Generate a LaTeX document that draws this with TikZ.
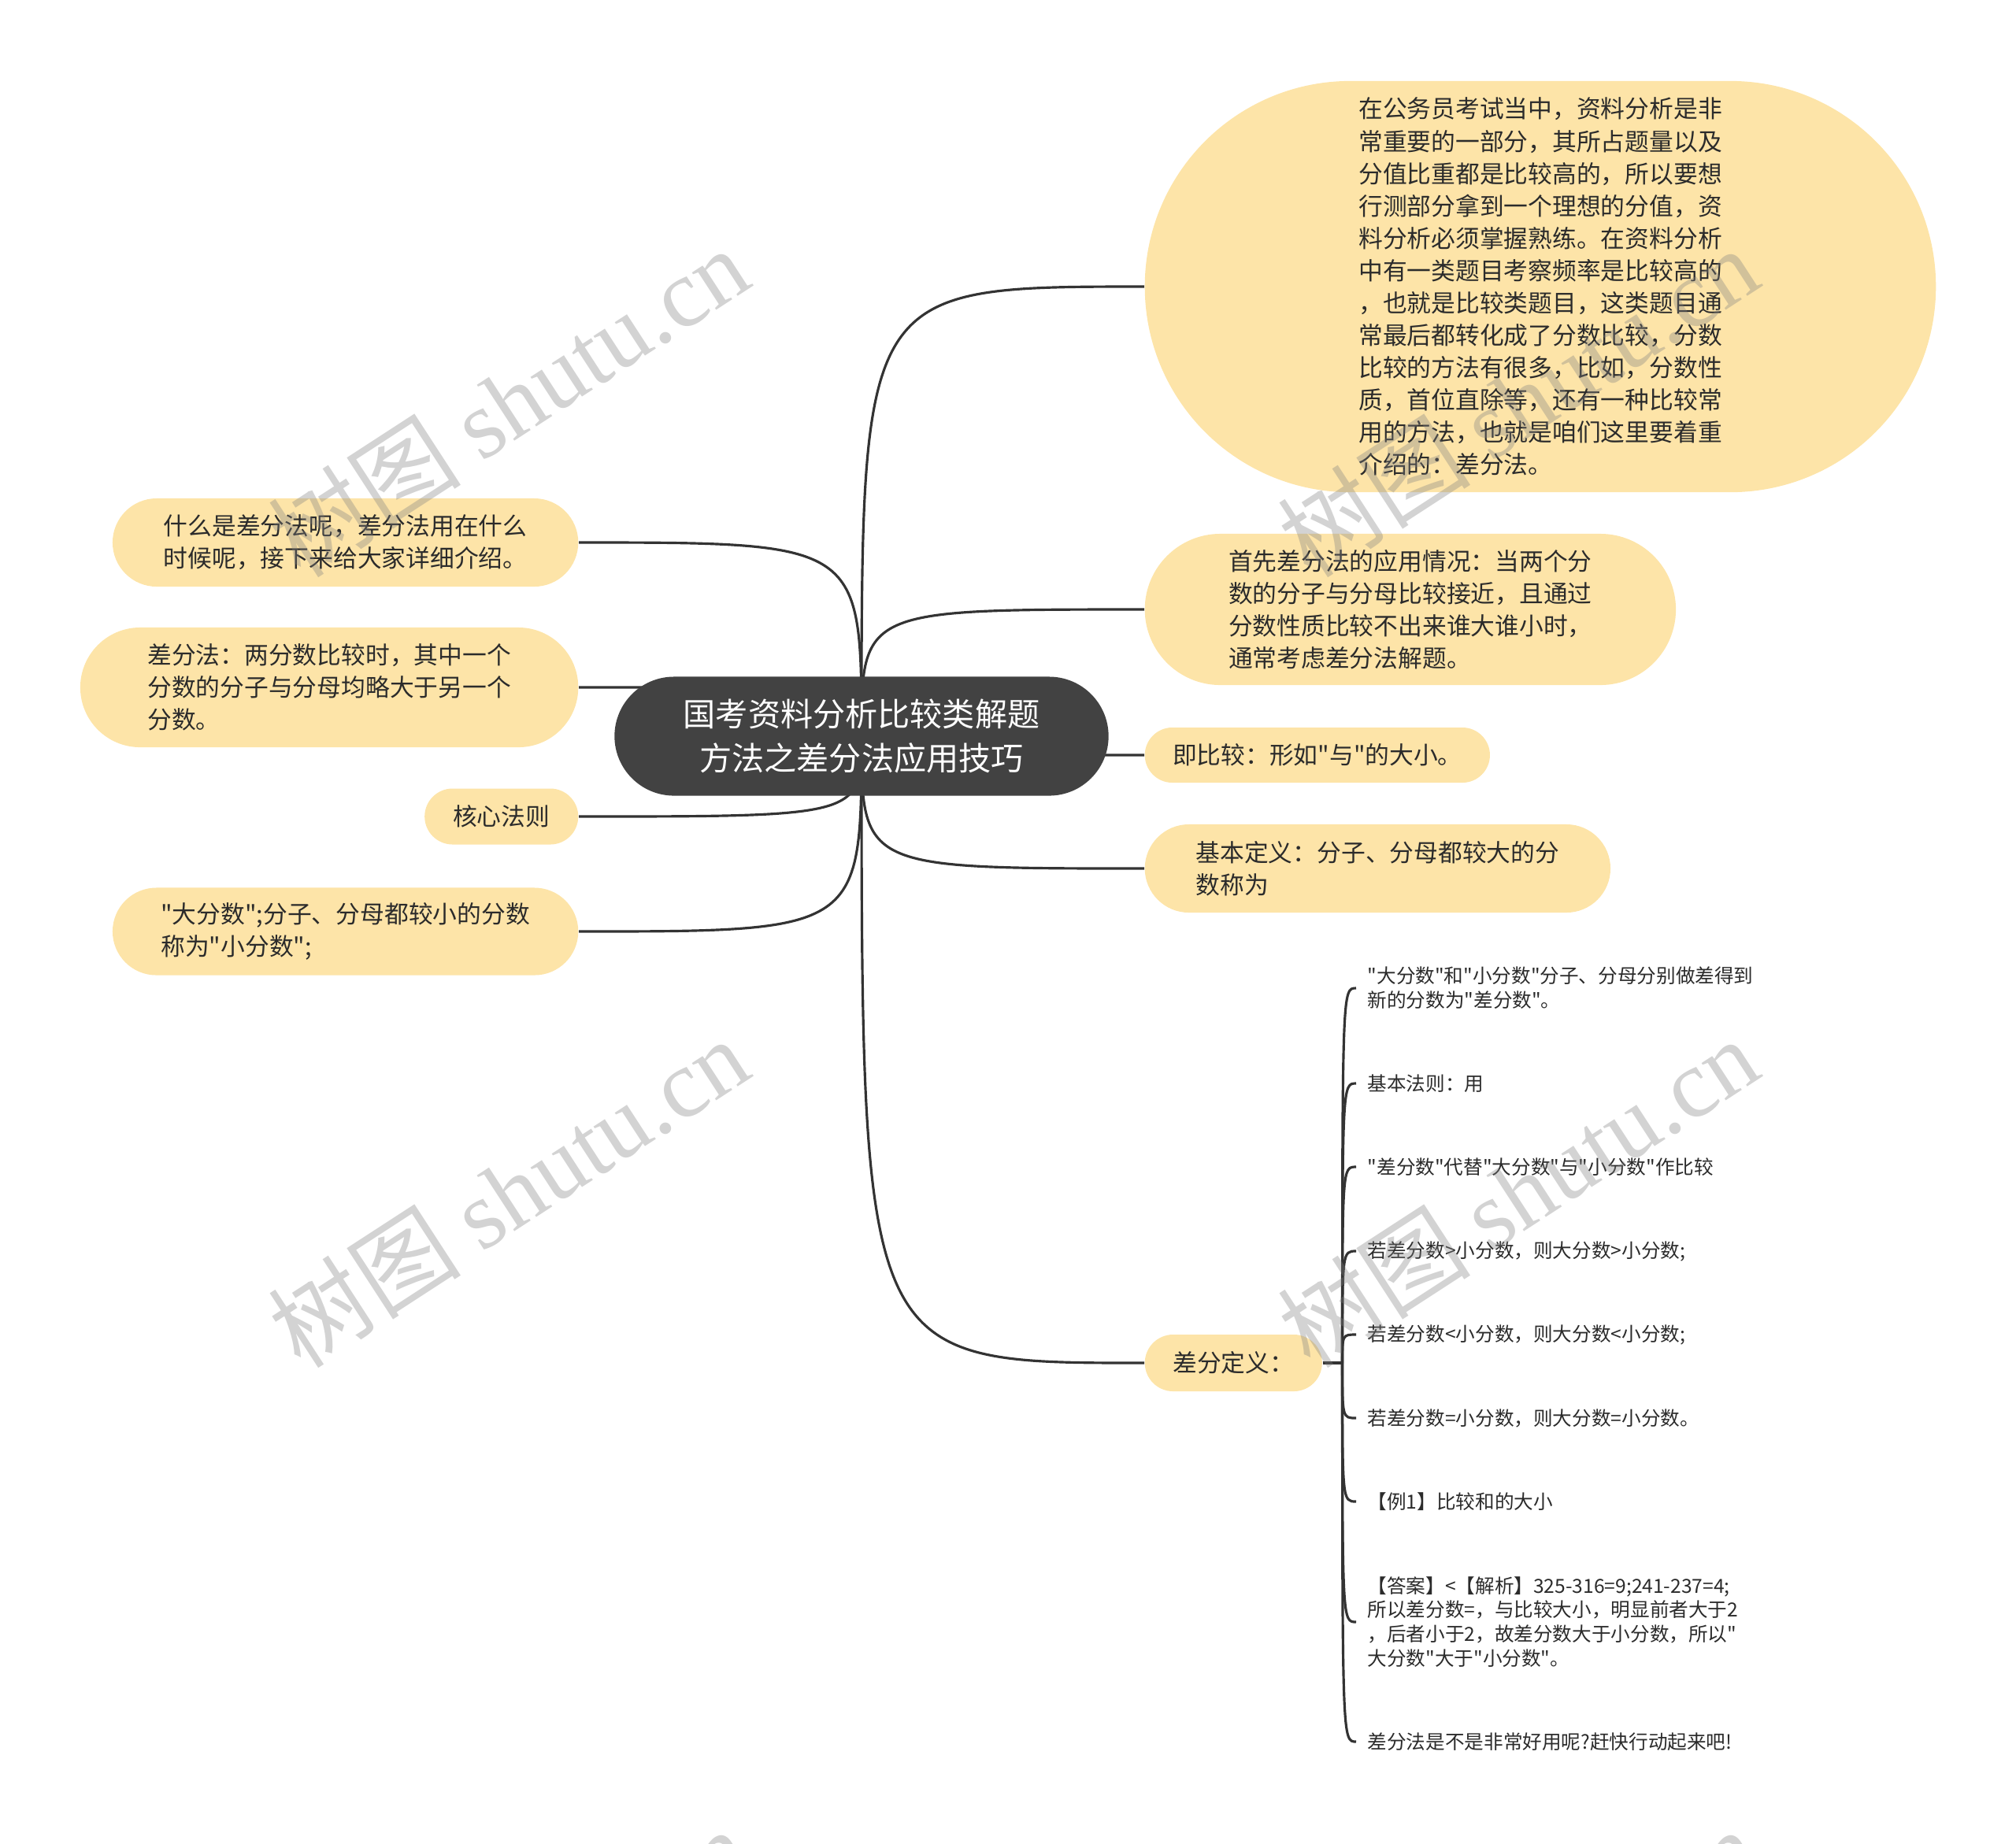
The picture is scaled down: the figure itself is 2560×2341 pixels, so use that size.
\documentclass[tikz,border=0pt]{standalone}
\usepackage{fontspec}
\setmainfont{Noto Sans CJK SC}[Ligatures=TeXOff]
\newfontfamily\wmfont{Liberation Serif}
\usetikzlibrary{shapes.misc,backgrounds}
\definecolor{nodefill}{HTML}{FDE4A8}
\definecolor{rootfill}{HTML}{424242}
\definecolor{linecol}{HTML}{333333}
\definecolor{textcol}{HTML}{2B2B2B}
\tikzset{
  rootbox/.style={rounded rectangle, fill=rootfill, text=white, align=center,
    font=\fontsize{11.7}{15.8}\selectfont, inner xsep=0.12cm, inner ysep=0.27cm},
  topic/.style={rounded rectangle, fill=nodefill, text=textcol, align=left,
    font=\fontsize{8.75}{11.67}\selectfont, inner xsep=0.08cm, inner ysep=0.19cm},
  leafnote/.style={anchor=west, align=left, text=textcol,
    font=\fontsize{7}{8.8}\selectfont, inner xsep=0.14cm, inner ysep=0cm},
  link/.style={draw=linecol, line width=0.9pt},
  wmtext/.style={text=gray, text opacity=0.35, rotate=33,
    font=\fontsize{35}{35}\selectfont}
}

\begin{document}
\begin{tikzpicture}[x=0.01cm, y=-0.01cm]%
\useasboundingbox (0,0) rectangle (2560,2341);%
% root
\node[rootbox, minimum width=6.51cm, minimum height=1.51cm] (root) at (1094,935) {国考资料分析比较类解题\\方法之差分法应用技巧};%
% right side
\node[topic, anchor=west, minimum width=10.2cm, minimum height=5.22cm] (intro) at (1453,364) {在公务员考试当中，资料分析是非\\常重要的一部分，其所占题量以及\\分值比重都是比较高的，所以要想\\行测部分拿到一个理想的分值，资\\料分析必须掌握熟练。在资料分析\\中有一类题目考察频率是比较高的\\，也就是比较类题目，这类题目通\\常最后都转化成了分数比较，分数\\比较的方法有很多，比如，分数性\\质，首位直除等，还有一种比较常\\用的方法，也就是咱们这里要着重\\介绍的：差分法。};%
\node[topic, anchor=west, minimum width=6.9cm, minimum height=1.92cm] (first) at (1453,774) {首先差分法的应用情况：当两个分\\数的分子与分母比较接近，且通过\\分数性质比较不出来谁大谁小时，\\通常考虑差分法解题。};%
\node[topic, anchor=west, minimum width=4.54cm, minimum height=0.7cm] (cmp) at (1453,959) {即比较：形如"与"的大小。};%
\node[topic, anchor=west, minimum width=6.07cm, minimum height=1.12cm] (basic) at (1453,1103) {基本定义：分子、分母都较大的分\\数称为};%
\node[topic, anchor=west, minimum width=2.41cm, minimum height=0.72cm] (def) at (1453,1731) {差分定义：};%
% left side
\node[topic, anchor=east, minimum width=6.07cm, minimum height=1.12cm] (what) at (735,689) {什么是差分法呢，差分法用在什么\\时候呢，接下来给大家详细介绍。};%
\node[topic, anchor=east, minimum width=6.48cm, minimum height=1.52cm] (meth) at (735,873) {差分法：两分数比较时，其中一个\\分数的分子与分母均略大于另一个\\分数。};%
\node[topic, anchor=east, minimum width=2.11cm, minimum height=0.71cm] (core) at (735,1037) {核心法则};%
\node[topic, anchor=east, minimum width=6.07cm, minimum height=1.11cm] (big) at (735,1183) {"大分数";分子、分母都较小的分数\\称为"小分数";};%
% leaves of def
\coordinate (hub) at ([xshift=0.25cm]def.east);%
\node[leafnote] (d1) at (1722,1255) {"大分数"和"小分数"分子、分母分别做差得到\\新的分数为"差分数"。};%
\node[leafnote] (d2) at (1722,1376) {基本法则：用};%
\node[leafnote] (d3) at (1722,1482) {"差分数"代替"大分数"与"小分数"作比较};%
\node[leafnote] (d4) at (1722,1589) {若差分数>小分数，则大分数>小分数;};%
\node[leafnote] (d5) at (1722,1695) {若差分数<小分数，则大分数<小分数;};%
\node[leafnote] (d6) at (1722,1801) {若差分数=小分数，则大分数=小分数。};%
\node[leafnote] (d7) at (1722,1907) {【例1】比较和的大小};%
\node[leafnote] (d8) at (1722,2060) {【答案】<【解析】325-316=9;241-237=4;\\所以差分数=，与比较大小，明显前者大于2\\，后者小于2，故差分数大于小分数，所以"\\大分数"大于"小分数"。};%
\node[leafnote] (d9) at (1722,2212) {差分法是不是非常好用呢?赶快行动起来吧!};%
% connectors
\begin{pgfonlayer}{background}
\foreach \n in {intro,first,cmp,basic,def}
  \draw[link] (root.center) .. controls (root.center |- \n.west) .. (\n.west);
\foreach \n in {what,meth,core,big}
  \draw[link] (root.center) .. controls (root.center |- \n.east) .. (\n.east);
\draw[link] (def.east) -- (hub);
\foreach \i in {1,...,9}
  \draw[link] (hub) .. controls (hub |- d\i.west) .. (d\i.west);
\end{pgfonlayer}
% watermark
\begin{scope}
\clip (0,0) rectangle (2560,2341);
\foreach \wx in {645,1927}
  \foreach \wy in {510,1514,2518}
    \node[wmtext] (wm\wx\wy) at (\wx,\wy) {树图 {\wmfont shutu.cn}};
\end{scope}
\end{tikzpicture}
\end{document}
